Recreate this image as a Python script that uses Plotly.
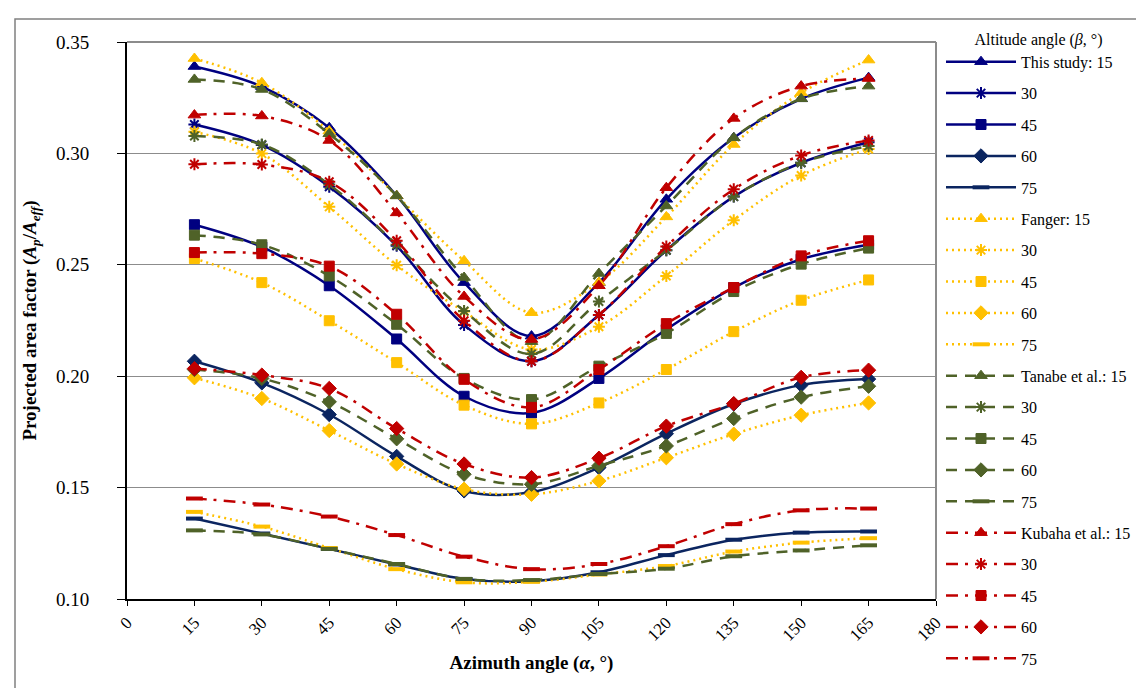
import plotly.graph_objects as go

alpha = [15, 30, 45, 60, 75, 90, 105, 120, 135, 150, 165]
altitudes = ["15", "30", "45", "60", "75"]

this15 = [0.339, 0.330, 0.3115, 0.281, 0.242, 0.218, 0.242, 0.2794, 0.307, 0.3245, 0.334]
this30 = [0.313, 0.3038, 0.285, 0.2585, 0.223, 0.2067, 0.2275, 0.2565, 0.2806, 0.2958, 0.305]
this45 = [0.268, 0.258, 0.2406, 0.2167, 0.191, 0.1835, 0.199, 0.221, 0.2398, 0.2525, 0.259]
this60 = [0.2067, 0.197, 0.1828, 0.164, 0.1485, 0.148, 0.159, 0.1742, 0.1875, 0.196, 0.1987]
this75 = [0.1361, 0.1294, 0.1225, 0.1155, 0.109, 0.108, 0.112, 0.1197, 0.1266, 0.1298, 0.1303]

fanger15 = [0.3426, 0.3317, 0.310, 0.281, 0.2518, 0.2285, 0.2421, 0.2715, 0.304, 0.3272, 0.3419]
fanger30 = [0.3097, 0.2999, 0.276, 0.2498, 0.229, 0.212, 0.2222, 0.245, 0.270, 0.2901, 0.302]
fanger45 = [0.2528, 0.242, 0.2249, 0.2061, 0.187, 0.1786, 0.188, 0.203, 0.220, 0.2341, 0.2432]
fanger60 = [0.1993, 0.190, 0.1756, 0.1606, 0.1493, 0.147, 0.153, 0.1634, 0.174, 0.1825, 0.188]
fanger75 = [0.1391, 0.1325, 0.1229, 0.1134, 0.1075, 0.1077, 0.111, 0.1148, 0.1213, 0.1253, 0.1273]

tanabe15 = [0.3332, 0.3287, 0.3088, 0.2809, 0.2443, 0.2155, 0.2461, 0.2764, 0.307, 0.3245, 0.3302]
tanabe30 = [0.3078, 0.304, 0.286, 0.259, 0.2293, 0.210, 0.2335, 0.2565, 0.2806, 0.2958, 0.3033]
tanabe45 = [0.2633, 0.259, 0.245, 0.2233, 0.199, 0.1895, 0.2045, 0.2192, 0.238, 0.2503, 0.2575]
tanabe60 = [0.203, 0.199, 0.1885, 0.1719, 0.156, 0.1515, 0.1598, 0.1687, 0.181, 0.1906, 0.1955]
tanabe75 = [0.1308, 0.129, 0.1225, 0.1157, 0.109, 0.1085, 0.1112, 0.1136, 0.1192, 0.1218, 0.1241]

kubaha15 = [0.3172, 0.3168, 0.3058, 0.2733, 0.2358, 0.2165, 0.2406, 0.2846, 0.3157, 0.3302, 0.3336]
kubaha30 = [0.2951, 0.295, 0.2873, 0.2608, 0.2249, 0.2067, 0.2275, 0.2582, 0.2839, 0.2991, 0.3058]
kubaha45 = [0.2555, 0.255, 0.2494, 0.2278, 0.1986, 0.186, 0.203, 0.2236, 0.2398, 0.254, 0.2608]
kubaha60 = [0.2034, 0.2005, 0.1945, 0.1765, 0.1606, 0.1545, 0.1632, 0.1776, 0.1877, 0.1995, 0.2027]
kubaha75 = [0.1451, 0.1424, 0.137, 0.1287, 0.119, 0.1134, 0.1157, 0.1237, 0.1336, 0.1398, 0.1406]

studies = [
    ("This study", [this15, this30, this45, this60, this75],
     ["#000080", "#000080", "#000080", "#0b2560", "#0b2560"], "solid"),
    ("Fanger", [fanger15, fanger30, fanger45, fanger60, fanger75],
     ["#FFC000"] * 5, "2px,4px"),
    ("Tanabe et al.", [tanabe15, tanabe30, tanabe45, tanabe60, tanabe75],
     ["#4F6228"] * 5, "11px,8px"),
    ("Kubaha et al.", [kubaha15, kubaha30, kubaha45, kubaha60, kubaha75],
     ["#C00000"] * 5, "12px,7px,3px,7px"),
]
symbols = ["triangle-up", "asterisk-open", "square", "diamond", "line-ew-open"]
sizes = [11, 10, 10, 11, 12]

FONT = "Liberation Serif"
fig = go.Figure()
rank = 0
for name, series, colors, dash in studies:
    for i, (alt, vals) in enumerate(zip(altitudes, series)):
        rank += 1
        label = f"{name}: {alt}" if i == 0 else alt
        sym = symbols[i]
        lw = 2 if sym == "asterisk-open" else (4 if sym == "line-ew-open" else 1)
        fig.add_trace(go.Scatter(
            x=alpha, y=vals, name=label, mode="lines+markers",
            legendgroup=f"g{rank}", legendrank=rank,
            line=dict(color=colors[i], width=2.5, dash=dash, shape="spline", smoothing=1.0),
            marker=dict(symbol=sym, size=sizes[i], color=colors[i],
                        line=dict(color=colors[i], width=lw)),
        ))

px0, px1, py0, py1 = 119, 928, 591, 34
W, H = px1 - px0, py0 - py1
def pxx(p): return (p - px0) / W
def pyy(p): return (py0 - p) / H

shapes = [
    dict(type="rect", xref="paper", yref="paper", x0=pxx(7), x1=pxx(1139), y0=pyy(685), y1=pyy(11),
         line=dict(color="#808080", width=1.5), layer="below"),
    dict(type="line", xref="paper", yref="paper", x0=0, x1=1, y0=1, y1=1,
         line=dict(color="#8c8c8c", width=2), layer="below"),
    dict(type="line", xref="paper", yref="paper", x0=1, x1=1, y0=0, y1=1,
         line=dict(color="#8c8c8c", width=2), layer="below"),
]

fig.update_layout(
    width=1144, height=688,
    margin=dict(l=px0, r=1144 - px1, t=py1, b=688 - py0),
    paper_bgcolor="white", plot_bgcolor="white",
    font=dict(family=FONT, color="black", size=16),
    shapes=shapes,
    legend=dict(
        x=pxx(933), xanchor="left", y=pyy(16), yanchor="top",
        font=dict(family=FONT, size=16, color="black"),
        title=dict(text="Altitude angle (<i>β</i>, °)", side="top center",
                   font=dict(family=FONT, size=16, color="black")),
        tracegroupgap=7.6, itemwidth=70, bgcolor="rgba(0,0,0,0)",
        traceorder="grouped", maxheight=1.0,
    ),
    xaxis=dict(
        range=[0, 180], tickmode="array", tickvals=list(range(0, 181, 15)),
        ticktext=[str(v) for v in range(0, 181, 15)], tickangle=-45,
        showgrid=False, zeroline=False, showline=True, linecolor="black", linewidth=2,
        ticks="outside", ticklen=5, tickcolor="black", tickwidth=1,
        tickfont=dict(family=FONT, size=17, color="black"),
        title=dict(text="<b>Azimuth angle (<i>α</i>, °)</b>", standoff=12,
                   font=dict(family=FONT, size=19, color="black")),
    ),
    yaxis=dict(
        range=[0.10, 0.35], tickmode="array",
        tickvals=[0.10, 0.15, 0.20, 0.25, 0.30, 0.35],
        ticktext=["0.10", "0.15", "0.20", "0.25", "0.30", "0.35"],
        showgrid=True, gridcolor="#8c8c8c", gridwidth=1,
        zeroline=False, showline=True, linecolor="black", linewidth=2,
        ticks="outside", ticklen=8, tickcolor="black", tickwidth=1,
        ticklabelstandoff=24,
        tickfont=dict(family=FONT, size=19, color="black"),
        title=dict(text="<b>Projected area factor (<i>A<sub>p</sub></i>/<i>A<sub>eff</sub></i>)</b>",
                   standoff=14, font=dict(family=FONT, size=19, color="black")),
    ),
)

fig.write_html("out.html")
